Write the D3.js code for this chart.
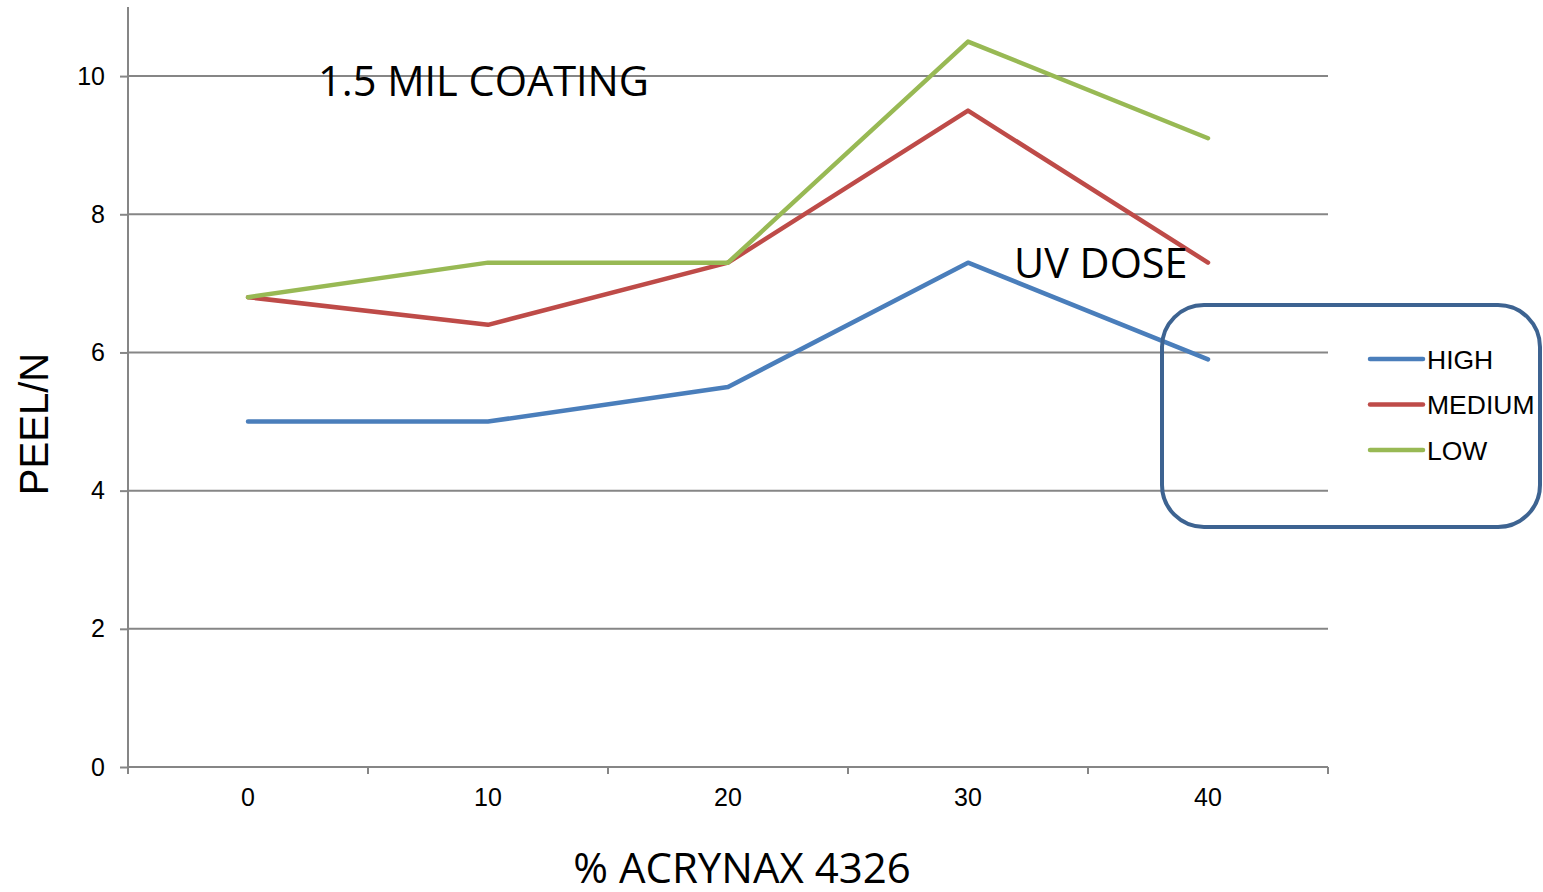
<!DOCTYPE html>
<html><head><meta charset="utf-8">
<script src="https://cdn.jsdelivr.net/npm/d3@7"></script>
<style>body{margin:0;background:#fff}svg{display:block}</style>
</head><body><svg id="c" width="1543" height="892"></svg>
<script>
const categories = ["0","10","20","30","40"];
const seriesNames = ["HIGH","MEDIUM","LOW"];
const seriesColors = ["#4a7ebb","#be4b48","#98b954"];
const highValues = [5, 5, 5.5, 7.3, 5.9];
const mediumValues = [6.8, 6.4, 7.3, 9.5, 7.3];
const lowValues = [6.8, 7.3, 7.3, 10.5, 9.1];
const yTicks = [0,2,4,6,8,10];

const series = [highValues, mediumValues, lowValues].map((v,i)=>({name:seriesNames[i], color:seriesColors[i], values:v}));
const svg = d3.select("#c");
const L=128, R=1328, T=7, B=767;
const x = d3.scaleBand().domain(categories).range([L,R]);
const y = d3.scaleLinear().domain([0,11]).range([B,T]);
const grey = "#868686";
const sans = "'Liberation Sans', Arial, sans-serif";
const calibri = "'Open Sans', 'Noto Sans', sans-serif";

// gridlines
svg.append("g").selectAll("line").data(yTicks.filter(d=>d>0)).join("line")
  .attr("x1",L).attr("x2",R).attr("y1",d=>y(d)).attr("y2",d=>y(d))
  .attr("stroke",grey).attr("stroke-width",2);

// y axis
const ya = svg.append("g").attr("transform",`translate(${L},0)`)
  .call(d3.axisLeft(y).tickValues(yTicks).tickSize(8).tickPadding(15));
ya.select(".domain").attr("stroke",grey).attr("stroke-width",2).attr("d",`M-0,${T}V${B}`);
ya.selectAll(".tick line").attr("stroke",grey).attr("stroke-width",2);
ya.selectAll(".tick text").attr("font-family",sans).attr("font-size",25).attr("fill","#000");

// x axis
const xa = svg.append("g").attr("transform",`translate(0,${B})`)
  .call(d3.axisBottom(x).tickSize(0).tickPadding(21));
xa.select(".domain").attr("stroke",grey).attr("stroke-width",2).attr("d",`M${L},0H${R}`);
xa.selectAll(".tick text").attr("font-family",sans).attr("font-size",25).attr("fill","#000");
const bounds = categories.map(c=>x(c)).concat([R]);
xa.append("g").selectAll("line").data(bounds).join("line")
  .attr("x1",d=>d).attr("x2",d=>d).attr("y1",0).attr("y2",7)
  .attr("stroke",grey).attr("stroke-width",2);

// lines
const line = d3.line().x((d,i)=>x(categories[i])+x.bandwidth()/2).y(d=>y(d));
svg.append("g").selectAll("path").data(series).join("path")
  .attr("d",d=>line(d.values)).attr("fill","none").attr("stroke",d=>d.color)
  .attr("stroke-width",4.5).attr("stroke-linejoin","round").attr("stroke-linecap","round");

// annotations
svg.append("text").attr("x",318).attr("y",96).attr("font-family",calibri).attr("font-size",41.5).text("1.5 MIL COATING");
svg.append("text").attr("x",1014).attr("y",278).attr("font-family",calibri).attr("font-size",41.4).text("UV DOSE");
svg.append("text").attr("x",742).attr("y",883).attr("text-anchor","middle").attr("font-family",calibri).attr("font-size",42).text("% ACRYNAX 4326");
svg.append("text").attr("transform","translate(48,424) rotate(-90)").attr("text-anchor","middle")
  .attr("font-family",sans).attr("font-size",40).text("PEEL/N");

// legend box
svg.append("rect").attr("x",1162).attr("y",305).attr("width",378).attr("height",222).attr("rx",42)
  .attr("fill","none").attr("stroke","#3d6391").attr("stroke-width",4);
const lg = svg.append("g").selectAll("g").data(series).join("g")
  .attr("transform",(d,i)=>`translate(1370,${359+i*45.5})`);
lg.append("line").attr("x1",0).attr("x2",53).attr("stroke",d=>d.color).attr("stroke-width",4.5).attr("stroke-linecap","round");
lg.append("text").attr("x",57).attr("y",9.5).attr("font-family",sans).attr("font-size",26.5).text(d=>d.name);
</script></body></html>
